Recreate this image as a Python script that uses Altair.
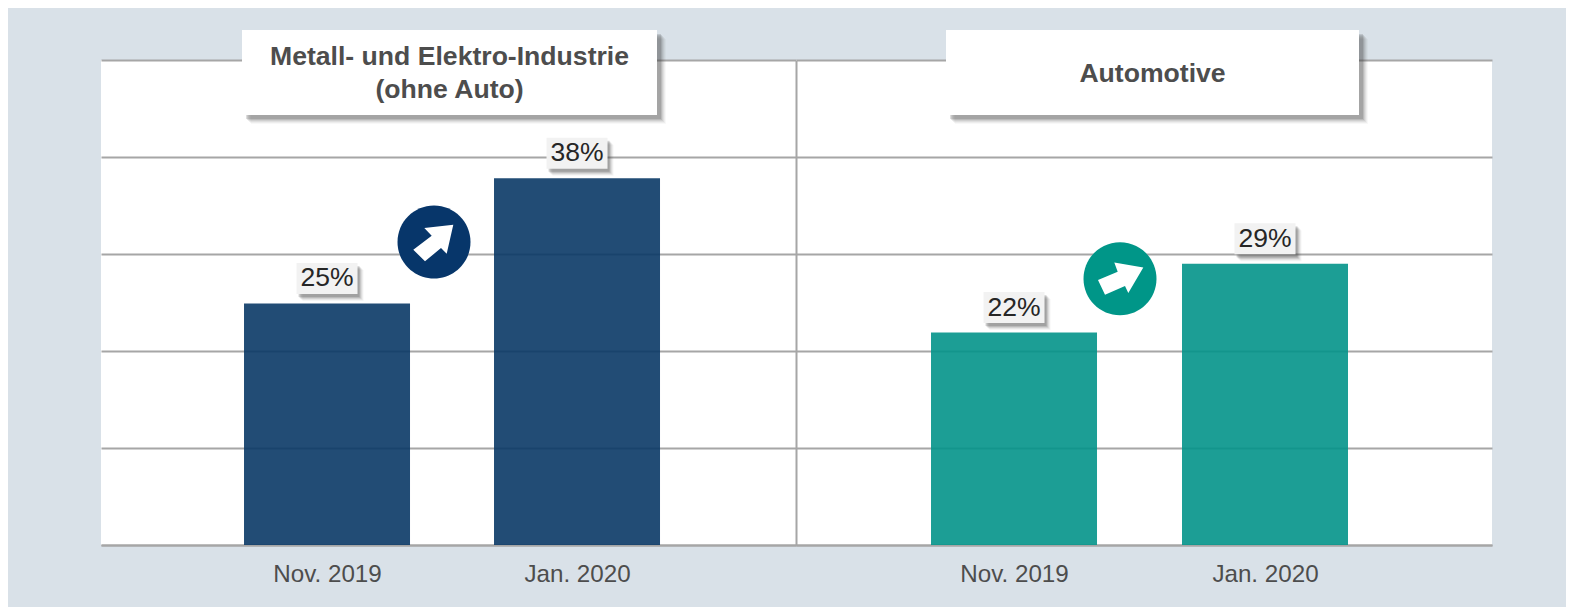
import altair as alt
import pandas as pd

periods = ["Nov. 2019", "Jan. 2020"]
metall_values = [24.9, 37.8]
auto_values = [21.9, 29]
metall_labels = ["25%", "38%"]
auto_labels = ["22%", "29%"]
metall_title = ["Metall- und Elektro-Industrie", "(ohne Auto)"]
auto_title = ["Automotive"]

FONT = "Liberation Sans"
GRID = "#a6a6a6"
BG = "#d9e1e8"
BAR_W = 166
BOX = "M-30.5,-15.5H30.5V15.5H-30.5Z"
DISC = "M-36.5,0A36.5,36.5 0 1,1 36.5,0A36.5,36.5 0 1,1 -36.5,0Z"
ARROW_L = "M19.3,-17.3L-9.7,-14L-2.3,-6.3L-20.7,7.7L-9,19.3L7,6L12.7,11.7Z"
ARROW_R = "M23.3,-11.3L-5.7,-16.3L-2.3,-7L-22,1.3L-15,16L5,7.3L8.3,14.3Z"


def panel(values, labels, color, bar_color, pad, align, title_lines, box, badge, arrow,
          width, show_domain):
    df = pd.DataFrame({"period": periods, "value": values, "label": labels})
    x = alt.X("period:N",
              scale=alt.Scale(type="point", domain=periods, padding=pad, align=align),
              axis=alt.Axis(title=None, labelAngle=0, ticks=False, labelFont=FONT,
                            labelFontSize=24.2, labelColor="#4d4d4d", labelPadding=17,
                            domainColor=GRID, domainWidth=2, grid=False))
    y = alt.Y("value:Q", scale=alt.Scale(domain=[0, 50], nice=False),
              axis=alt.Axis(title=None, values=[0, 10, 20, 30, 40, 50], labels=False,
                            ticks=False, grid=True, gridColor=GRID, gridWidth=2,
                            domain=show_domain, domainColor=GRID, domainWidth=2))
    base = alt.Chart(df).encode(x=x, y=y)
    layers = [base.mark_bar(size=BAR_W, color=bar_color, opacity=0.9)]
    # soft shadows + box behind each value label
    for off, op in [(7, 0.05), (6, 0.08), (5, 0.12), (4, 0.16), (3, 0.2)]:
        layers.append(base.mark_point(shape=BOX, size=4, filled=True, color="#404040",
                                      opacity=op, strokeWidth=0,
                                      xOffset=off - 1, yOffset=-25 + off))
    layers.append(base.mark_point(shape=BOX, size=4, filled=True, color="#f2f2f2",
                                  opacity=1, strokeWidth=0, yOffset=-25))
    layers.append(base.mark_text(font=FONT, fontSize=26.5, color="#262626",
                                 baseline="middle", dy=-25).encode(text="label:N"))
    # header box
    x0, x1, y0, y1 = box
    one = alt.Chart(pd.DataFrame({"k": [0]}))
    for off, op in [(9, 0.04), (8, 0.06), (7, 0.08), (6, 0.1), (5, 0.14), (4, 0.18)]:
        layers.append(one.mark_rect(color="#404040", opacity=op).encode(
            x=alt.value(x0 + off), x2=alt.value(x1 + off),
            y=alt.value(y0 + off), y2=alt.value(y1 + off)))
    layers.append(one.mark_rect(color="white", opacity=1).encode(
        x=alt.value(x0), x2=alt.value(x1), y=alt.value(y0), y2=alt.value(y1)))
    cx = (x0 + x1) / 2
    if len(title_lines) == 2:
        ys = [-3, 30]
    else:
        ys = [13.5]
    for line, ty in zip(title_lines, ys):
        layers.append(one.mark_text(font=FONT, fontSize=26.6, fontWeight="bold",
                                    color="#4d4d4d", baseline="middle", text=line).encode(
            x=alt.value(cx), y=alt.value(ty)))
    # trend badge
    bx, by = badge
    layers.append(one.mark_point(shape=DISC, size=4, filled=True, color=color, opacity=1,
                                 strokeWidth=0).encode(x=alt.value(bx), y=alt.value(by)))
    layers.append(one.mark_point(shape=arrow, size=4, filled=True, color="white", opacity=1,
                                 strokeWidth=0).encode(x=alt.value(bx), y=alt.value(by)))
    return alt.layer(*layers).properties(width=width, height=485)


left = panel(metall_values, metall_labels, "#07366a", "#0a3866", 0.89, 0.5079, metall_title,
             (141, 556, -30, 55), (333, 182), ARROW_L, 695, False)
right = panel(auto_values, auto_labels, "#009688", "#03938a", 0.8865, 0.4899, auto_title,
              (150, 563, -30, 55), (324, 218.7), ARROW_R, 696, True)

chart = (
    alt.hconcat(left, right, spacing=0)
    .properties(background=BG,
                padding={"left": 93, "top": 22, "right": 74, "bottom": 24})
    .configure_view(fill="white", stroke=None)
)
chart.save("out.html", embed_options={"renderer": "svg", "actions": False})
